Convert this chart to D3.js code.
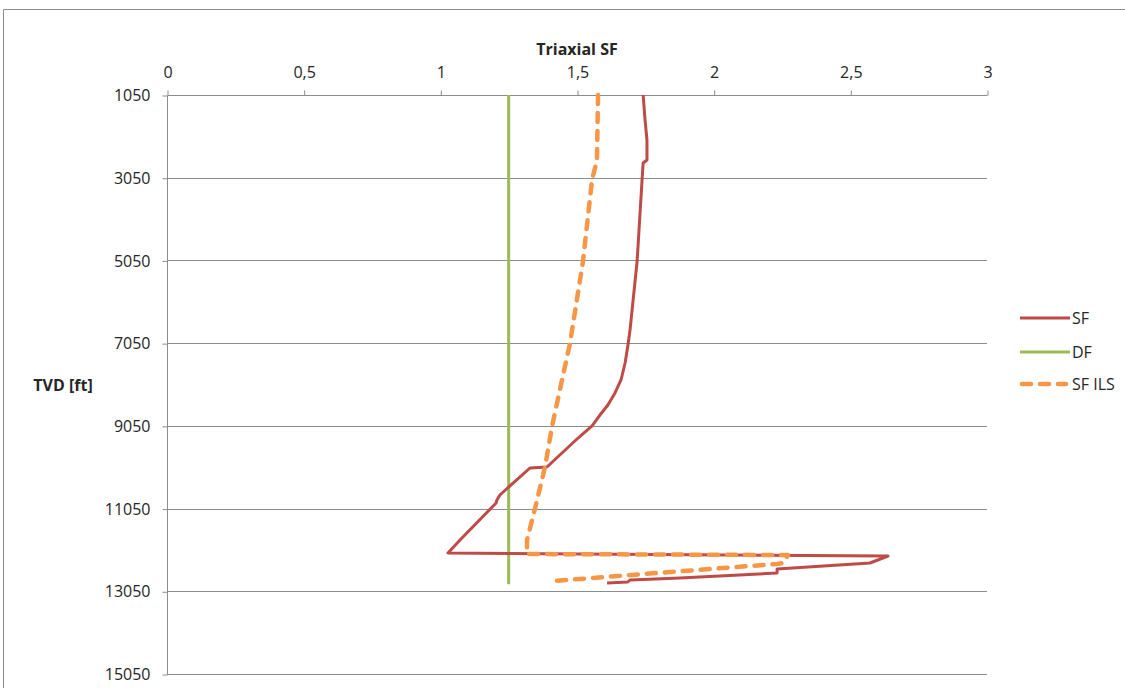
<!DOCTYPE html>
<html>
<head>
<meta charset="utf-8">
<script src="https://cdn.jsdelivr.net/npm/d3@7"></script>
<style>
  html, body { margin: 0; padding: 0; background: #fff; }
  svg { display: block; }
  text { font-family: "Open Sans", "Liberation Sans", sans-serif; fill: #262626; }
</style>
</head>
<body>
<svg id="chart" width="1125" height="688"></svg>
<script>
// Axis ticks
const xTicks = [0, 0.5, 1, 1.5, 2, 2.5, 3];
const xTickLabels = ["0", "0,5", "1", "1,5", "2", "2,5", "3"];
const depthTicks = [1050, 3050, 5050, 7050, 9050, 11050, 13050, 15050];

// SF profile: [safety factor, TVD ft]
const sfValues = [
  [1.742, 1050], [1.749, 1655], [1.756, 2138], [1.756, 2622], [1.742, 2694],
  [1.738, 3105], [1.720, 5064], [1.694, 6733], [1.687, 7071], [1.676, 7530],
  [1.661, 7941], [1.639, 8255], [1.613, 8546], [1.584, 8788], [1.555, 9053],
  [1.504, 9344], [1.445, 9706], [1.390, 10045], [1.328, 10069], [1.266, 10432],
  [1.218, 10722], [1.207, 10843], [1.204, 10916], [1.072, 11810], [1.028, 12124],
  [2.638, 12197], [2.572, 12366], [2.232, 12511], [2.232, 12608], [1.877, 12729],
  [1.694, 12777], [1.686, 12826], [1.610, 12850]
];

// Design factor
const dfValues = [[1.25, 1050], [1.25, 12880]];

// SF ILS profile
const sfIlsValues = [
  [1.577, 1050], [1.573, 2622], [1.555, 3105], [1.522, 5064], [1.474, 7071],
  [1.449, 7820], [1.409, 9053], [1.383, 10045], [1.346, 11061], [1.317, 11810],
  [1.317, 12149], [2.272, 12173], [2.254, 12366], [2.232, 12390], [1.840, 12584],
  [1.412, 12802]
];

const seriesNames = ["SF", "DF", "SF ILS"];
const seriesColors = ["#BE4B48", "#9BBB59", "#F79646"];

const svg = d3.select("#chart");
const plot = { left: 167, right: 987, top: 95, bottom: 674 };

const x = d3.scaleLinear().domain([0, 3]).range([plot.left, plot.right]);
const y = d3.scaleLinear().domain([1050, 15050]).range([plot.top, plot.bottom]);

// chart frame
svg.append("path")
  .attr("d", "M3.5,688 V9.5 H1125")
  .attr("fill", "none").attr("stroke", "#8c8c8c").attr("stroke-width", 1);

// horizontal gridlines
svg.append("g").selectAll("line").data(depthTicks.slice(1)).join("line")
  .attr("x1", plot.left).attr("x2", plot.right)
  .attr("y1", d => Math.round(y(d)) + 0.5).attr("y2", d => Math.round(y(d)) + 0.5)
  .attr("stroke", "#8c8c8c").attr("stroke-width", 1);

// top axis
const xAxis = d3.axisTop(x).tickValues(xTicks)
  .tickFormat((d, i) => xTickLabels[i]).tickSize(5).tickPadding(13);
const gx = svg.append("g").attr("transform", `translate(0.5,${plot.top + 0.5})`).call(xAxis);
gx.select(".domain").attr("stroke", "#8c8c8c").attr("d", `M${plot.left},0H${plot.right}`);
gx.selectAll(".tick line").attr("stroke", "#8c8c8c");
gx.selectAll(".tick text").attr("font-size", 16).attr("font-family", "Open Sans").attr("fill", "#262626");

// left axis
const yAxis = d3.axisLeft(y).tickValues(depthTicks).tickFormat(d3.format("d"))
  .tickSize(5).tickPadding(12);
const gy = svg.append("g").attr("transform", `translate(${plot.left + 0.5},0.5)`).call(yAxis);
gy.select(".domain").attr("stroke", "#8c8c8c").attr("d", `M0,${plot.top}V${plot.bottom}`);
gy.selectAll(".tick line").attr("stroke", "#8c8c8c");
gy.selectAll(".tick text").attr("font-size", 16).attr("font-family", "Open Sans").attr("fill", "#262626");

// axis titles
svg.append("text").attr("x", x(1.5)).attr("y", 55)
  .attr("text-anchor", "middle").attr("font-size", 16).attr("font-weight", "bold")
  .text("Triaxial SF");
svg.append("text").attr("x", 63).attr("y", 391)
  .attr("text-anchor", "middle").attr("font-size", 16).attr("font-weight", "bold")
  .text("TVD [ft]");

const line = d3.line().x(d => x(d[0])).y(d => y(d[1]));

const plotArea = svg.append("g");
plotArea.append("path").datum(dfValues)
  .attr("d", line).attr("fill", "none")
  .attr("stroke", seriesColors[1]).attr("stroke-width", 3);
plotArea.append("path").datum(sfValues)
  .attr("d", line).attr("fill", "none")
  .attr("stroke", seriesColors[0]).attr("stroke-width", 3)
  .attr("stroke-linejoin", "round");
plotArea.append("path").datum(sfIlsValues)
  .attr("d", line).attr("fill", "none")
  .attr("stroke", seriesColors[2]).attr("stroke-width", 4.5)
  .attr("stroke-linecap", "round").attr("stroke-linejoin", "round")
  .attr("stroke-dasharray", "9,9");

// legend
const legend = svg.append("g");
const legendY = [318, 352, 384];
seriesNames.forEach((name, i) => {
  const g = legend.append("g").attr("transform", `translate(0,${legendY[i]})`);
  g.append("line").attr("x1", i === 2 ? 1022 : 1020).attr("x2", i === 2 ? 1066 : 1070)
    .attr("y1", 0).attr("y2", 0)
    .attr("stroke", seriesColors[i]).attr("stroke-width", i === 2 ? 4.5 : 3)
    .attr("stroke-linecap", i === 2 ? "round" : "butt")
    .attr("stroke-dasharray", i === 2 ? "9,9" : null);
  g.append("text").attr("x", 1072).attr("y", 0).attr("dy", "0.35em")
    .attr("font-size", 16).text(name);
});
</script>
</body>
</html>
